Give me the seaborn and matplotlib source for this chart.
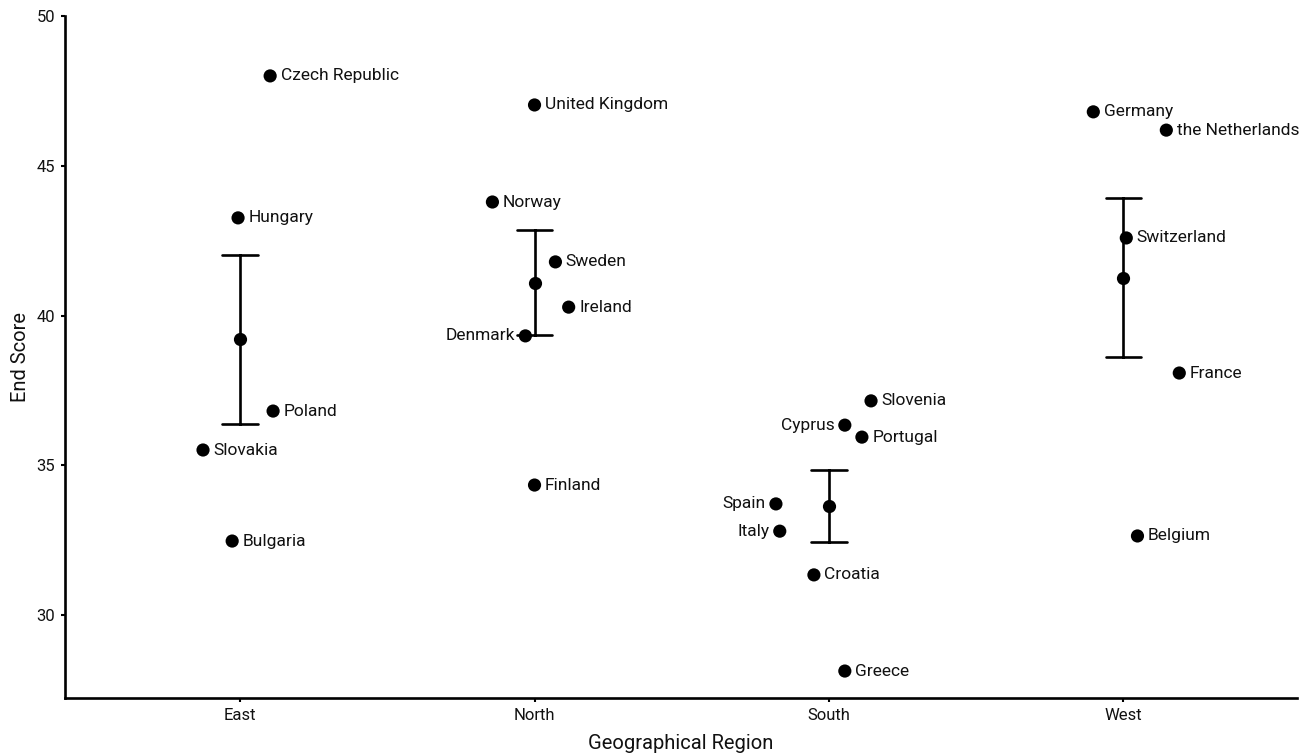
import matplotlib
matplotlib.use("Agg")
import matplotlib.pyplot as plt
import numpy as np
import pandas as pd
import seaborn as sns

# Country scores grouped by region
regions = ["East", "North", "South", "West"]

countries = [
    "Czech Republic", "Hungary", "Poland", "Slovakia", "Bulgaria",
    "United Kingdom", "Norway", "Sweden", "Ireland", "Denmark", "Finland",
    "Slovenia", "Cyprus", "Portugal", "Spain", "Italy", "Croatia", "Greece",
    "Germany", "the Netherlands", "Switzerland", "France", "Belgium",
]
country_region = (
    ["East"] * 5 + ["North"] * 6 + ["South"] * 7 + ["West"] * 5
)
end_score = [
    48.00, 43.26, 36.81, 35.51, 32.47,
    47.03, 43.79, 41.79, 40.28, 39.32, 34.34,
    37.15, 36.34, 35.94, 33.71, 32.80, 31.34, 28.13,
    46.80, 46.19, 42.59, 38.08, 32.64,
]
# horizontal spread of each country point within its region column
x_offset = [
    0.102, -0.007, 0.112, -0.126, -0.027,
    0.000, -0.143, 0.071, 0.116, -0.031, 0.000,
    0.143, 0.054, 0.112, -0.180, -0.167, -0.051, 0.054,
    -0.102, 0.146, 0.010, 0.190, 0.048,
]
# countries whose name sits to the left of the point
left_labels = ["Denmark", "Cyprus", "Spain", "Italy"]

df = pd.DataFrame({
    "Country": countries,
    "Region": pd.Categorical(country_region, categories=regions),
    "Score": end_score,
    "Offset": x_offset,
})
df["xpos"] = df["Region"].cat.codes + df["Offset"]

sns.set_theme(style="ticks")
plt.rcParams["font.family"] = ["Roboto", "DejaVu Sans"]

fig = plt.figure(figsize=(13.12, 7.55), dpi=100)
ax = fig.add_axes([0.0495, 0.0755, 0.9391, 0.9033])

# region mean with standard-error bars
sns.pointplot(
    data=df, x="Region", y="Score", order=regions,
    errorbar="se", capsize=0.12, color="black",
    linestyle="none", markersize=9.5, markeredgewidth=0,
    err_kws={"linewidth": 1.9},
    ax=ax,
)

# individual countries
sns.scatterplot(
    data=df, x="xpos", y="Score", color="black", s=90,
    edgecolor="none", ax=ax, legend=False, zorder=3,
)

for _, row in df.iterrows():
    left = row["Country"] in left_labels
    ax.annotate(
        row["Country"], (row["xpos"], row["Score"]),
        xytext=(-7.5 if left else 7.5, 0), textcoords="offset points",
        ha="right" if left else "left", va="center",
        fontsize=12.5, color="#111111",
    )

ax.set_xlim(-0.595, 3.59)
ax.set_ylim(27.23, 50)
ax.set_yticks([30, 35, 40, 45, 50])
ax.set_xticks(range(len(regions)))
ax.set_xticklabels(regions)

ax.set_xlabel("Geographical Region", fontsize=14.5, color="#111111", labelpad=8)
ax.set_ylabel("End Score", fontsize=14.5, color="#111111", labelpad=5)

for side in ["top", "right"]:
    ax.spines[side].set_visible(False)
for side in ["left", "bottom"]:
    ax.spines[side].set_linewidth(1.9)
    ax.spines[side].set_color("black")
ax.tick_params(axis="both", length=3, width=1.5, color="black",
               labelsize=12, labelcolor="#111111", pad=4)

fig.savefig("out.png", dpi=100)
